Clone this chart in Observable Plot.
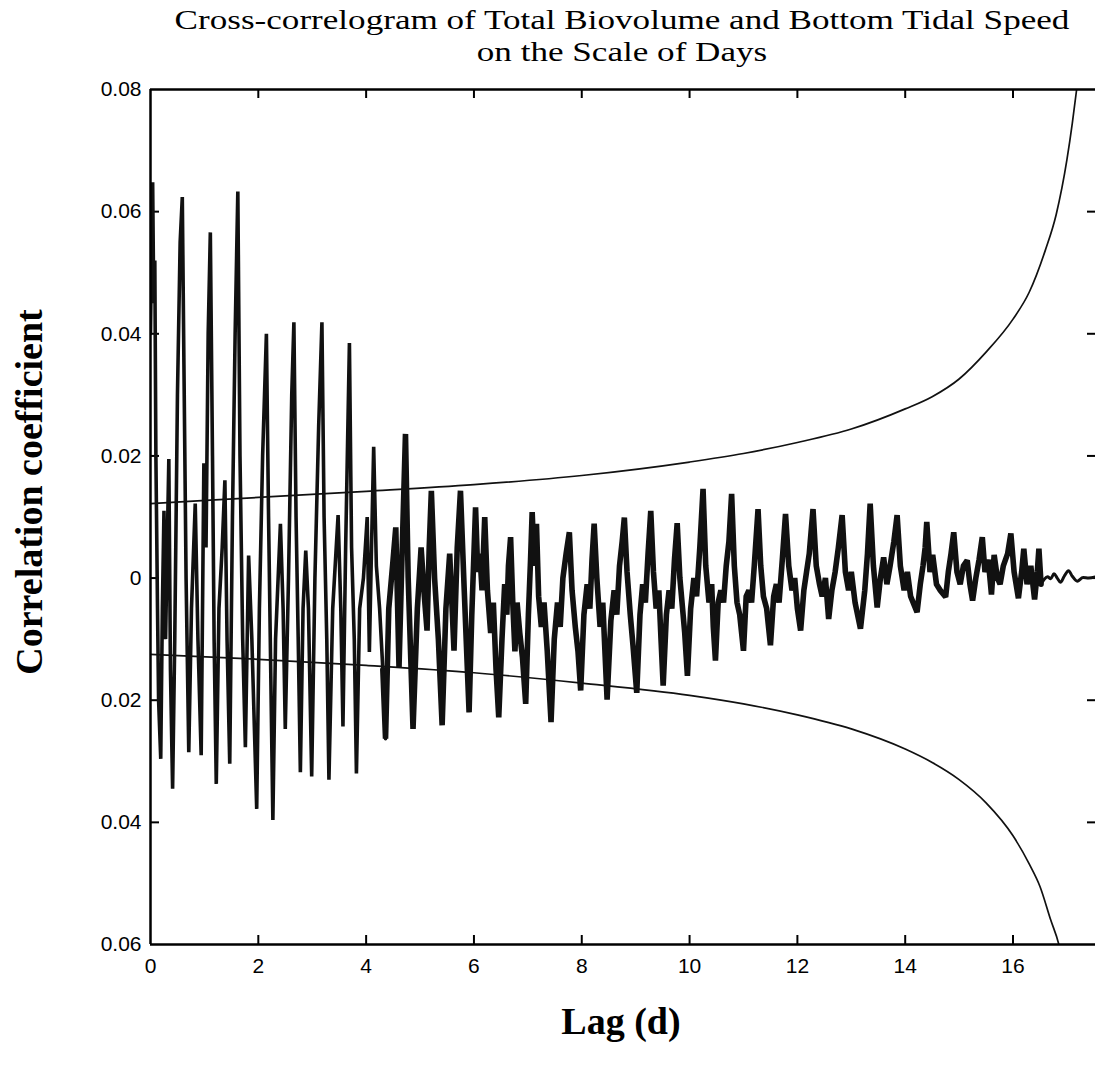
<!DOCTYPE html>
<html>
<head>
<meta charset="utf-8">
<script src="https://cdn.jsdelivr.net/npm/d3@7"></script>
<script src="https://cdn.jsdelivr.net/npm/@observablehq/plot@0.6"></script>
<style>
  html, body { margin: 0; padding: 0; background: #fff; }
  #wrap { position: relative; width: 1095px; height: 1068px; overflow: hidden; }
  .title { position: absolute; left: 0; top: 4px; width: 1244px; text-align: center; font-family: "Liberation Serif", serif; font-size: 27px; line-height: 32px; color: #000; white-space: nowrap; transform: scaleX(1.3); transform-origin: 622px 50%; }
  .axlabel { position: absolute; font-family: "Liberation Serif", serif; font-weight: bold; font-size: 38px; color: #000; white-space: nowrap; line-height: 1; }
</style>
</head>
<body>
<div id="wrap">
  <div class="title">Cross-correlogram of Total Biovolume and Bottom Tidal Speed<br>on the Scale of Days</div>
  <div class="axlabel" id="ylab" style="left:29px; top:492px; transform: translate(-50%,-50%) rotate(-90deg);">Correlation coefficient</div>
  <div class="axlabel" id="xlab" style="left:621px; top:1021px; transform: translate(-50%,-50%);">Lag (d)</div>
  <div id="chart"></div>
</div>
<script>
// ---- data ----
const xTicks = [0, 2, 4, 6, 8, 10, 12, 14, 16];
const yTicks = [-0.06, -0.04, -0.02, 0, 0.02, 0.04, 0.06, 0.08];
const yTickLabels = ["0.06", "0.04", "0.02", "0", "0.02", "0.04", "0.06", "0.08"];

// [lag (days), correlation coefficient]
const crossCorr = [
  [0.00, 0.040], [0.02, 0.055], [0.04, 0.0648], [0.06, 0.045], [0.08, 0.052], [0.10, 0.020], [0.13, -0.005], [0.15, -0.020],
  [0.19, -0.0296], [0.22, -0.005], [0.25, 0.011], [0.28, -0.010], [0.31, 0.005], [0.34, 0.0195], [0.37, -0.015], [0.41, -0.0345],
  [0.45, -0.010], [0.50, 0.030], [0.55, 0.055], [0.59, 0.0624], [0.62, 0.035], [0.66, 0.000], [0.71, -0.0285], [0.76, -0.005],
  [0.83, 0.0122], [0.88, -0.010], [0.94, -0.029], [0.99, 0.0188], [1.03, 0.005], [1.07, 0.040], [1.11, 0.0566], [1.15, 0.020],
  [1.18, -0.010], [1.22, -0.0337], [1.27, -0.005], [1.33, 0.005], [1.38, 0.016], [1.42, -0.010], [1.47, -0.0304], [1.52, 0.010],
  [1.57, 0.040], [1.62, 0.0633], [1.66, 0.020], [1.71, -0.010], [1.76, -0.0277], [1.82, 0.0037], [1.88, -0.010], [1.97, -0.0378],
  [2.02, -0.005], [2.08, 0.020], [2.15, 0.040], [2.19, 0.010], [2.23, -0.015], [2.27, -0.0396], [2.32, -0.010], [2.41, 0.0089],
  [2.46, -0.005], [2.50, -0.0247], [2.56, 0.000], [2.62, 0.030], [2.66, 0.0419], [2.70, 0.010], [2.74, -0.010], [2.78, -0.0318],
  [2.83, -0.005], [2.88, 0.0045], [2.93, -0.005], [2.99, -0.0325], [3.05, 0.000], [3.12, 0.025], [3.18, 0.0419], [3.22, 0.010],
  [3.27, -0.010], [3.31, -0.033], [3.38, -0.005], [3.48, 0.0103], [3.53, -0.005], [3.57, -0.0243], [3.62, 0.005], [3.69, 0.0385],
  [3.73, 0.005], [3.78, -0.010], [3.82, -0.032], [3.88, -0.005], [3.95, 0.000], [4.02, 0.010], [4.06, -0.0121], [4.10, 0.005],
  [4.14, 0.0215], [4.19, 0.002], [4.25, -0.005], [4.31, -0.015], [4.36, -0.0263], [4.42, -0.005], [4.50, 0.003], [4.55, 0.0083],
  [4.61, -0.0146], [4.67, 0.005], [4.73, 0.0236], [4.78, 0.000], [4.87, -0.0247], [4.95, -0.005], [5.02, 0.005], [5.08, -0.003],
  [5.13, -0.0086], [5.17, 0.005], [5.21, 0.0143], [5.27, 0.000], [5.34, -0.010], [5.41, -0.0241], [5.48, -0.005], [5.55, 0.004],
  [5.63, -0.0119], [5.69, 0.005], [5.75, 0.0143], [5.82, -0.002], [5.91, -0.022], [5.96, -0.006], [6.00, 0.004], [6.03, 0.0116],
  [6.07, 0.001], [6.11, 0.004], [6.15, -0.002], [6.20, 0.010], [6.25, -0.002], [6.31, -0.009], [6.36, -0.004], [6.41, -0.015],
  [6.46, -0.0228], [6.52, -0.010], [6.57, -0.001], [6.61, -0.006], [6.64, 0.002], [6.68, 0.0067], [6.72, -0.004], [6.76, -0.012],
  [6.80, -0.004], [6.85, -0.009], [6.90, -0.013], [6.96, -0.0206], [7.01, -0.006], [7.05, 0.003], [7.08, 0.0108], [7.12, 0.002],
  [7.16, 0.0089], [7.20, -0.003], [7.25, -0.008], [7.30, -0.004], [7.36, -0.012], [7.43, -0.0236], [7.49, -0.010], [7.55, -0.004],
  [7.60, -0.008], [7.65, 0.000], [7.71, 0.004], [7.77, 0.0075], [7.82, -0.002], [7.88, -0.008], [7.93, -0.012], [7.98, -0.0184],
  [8.04, -0.006], [8.10, -0.001], [8.15, -0.005], [8.19, 0.003], [8.23, 0.0089], [8.28, 0.000], [8.34, -0.008], [8.39, -0.004],
  [8.43, -0.012], [8.47, -0.0199], [8.54, -0.007], [8.60, -0.002], [8.65, -0.006], [8.70, 0.002], [8.75, 0.006], [8.79, 0.0099],
  [8.84, 0.001], [8.90, -0.006], [8.95, -0.011], [9.02, -0.0188], [9.08, -0.006], [9.13, -0.001], [9.18, -0.004], [9.23, 0.004],
  [9.28, 0.011], [9.33, 0.001], [9.38, -0.005], [9.43, -0.002], [9.47, -0.010], [9.51, -0.0176], [9.57, -0.006], [9.62, -0.002],
  [9.67, -0.005], [9.72, 0.003], [9.77, 0.009], [9.82, 0.000], [9.87, -0.005], [9.91, -0.009], [9.96, -0.016], [10.02, -0.005],
  [10.08, 0.000], [10.13, -0.003], [10.19, 0.005], [10.25, 0.0146], [10.30, 0.002], [10.36, -0.004], [10.41, -0.001], [10.44, -0.008],
  [10.48, -0.0135], [10.53, -0.004], [10.58, -0.002], [10.63, -0.004], [10.68, 0.002], [10.73, 0.006], [10.78, 0.0138], [10.83, 0.002],
  [10.88, -0.004], [10.93, -0.006], [11.00, -0.0119], [11.05, -0.003], [11.10, -0.002], [11.15, -0.004], [11.20, 0.002], [11.27, 0.0113],
  [11.32, 0.002], [11.37, -0.003], [11.43, -0.005], [11.50, -0.011], [11.56, -0.003], [11.61, -0.001], [11.66, -0.004], [11.72, 0.003],
  [11.78, 0.0105], [11.84, 0.002], [11.90, -0.002], [11.95, 0.000], [12.00, -0.005], [12.06, -0.0086], [12.12, -0.002], [12.17, 0.001],
  [12.22, 0.004], [12.29, 0.0113], [12.35, 0.002], [12.41, -0.001], [12.46, -0.003], [12.52, 0.000], [12.58, -0.0067], [12.64, -0.002],
  [12.70, 0.001], [12.76, 0.005], [12.83, 0.0103], [12.89, 0.001], [12.95, -0.002], [13.00, 0.001], [13.07, -0.004], [13.17, -0.0083],
  [13.25, -0.002], [13.30, 0.004], [13.35, 0.0122], [13.41, 0.002], [13.48, -0.0048], [13.54, 0.000], [13.60, 0.0034], [13.66, -0.001],
  [13.72, 0.002], [13.79, 0.006], [13.85, 0.0103], [13.91, 0.002], [13.98, -0.002], [14.04, 0.001], [14.10, -0.003], [14.22, -0.0056],
  [14.28, -0.001], [14.33, 0.002], [14.37, 0.005], [14.40, 0.0092], [14.46, 0.001], [14.51, 0.0038], [14.58, -0.001], [14.65, -0.002],
  [14.75, -0.0031], [14.80, 0.001], [14.85, 0.004], [14.90, 0.0075], [14.96, 0.001], [15.02, -0.001], [15.08, 0.002], [15.15, 0.0029],
  [15.20, -0.001], [15.25, -0.0037], [15.31, 0.000], [15.37, 0.003], [15.43, 0.0067], [15.48, 0.001], [15.54, 0.003], [15.60, -0.0027],
  [15.65, 0.0038], [15.71, 0.000], [15.76, -0.001], [15.82, 0.002], [15.90, 0.004], [15.96, 0.0073], [16.02, 0.001], [16.10, -0.0033],
  [16.16, 0.001], [16.20, 0.0048], [16.26, -0.001], [16.33, 0.002], [16.40, -0.0035], [16.45, 0.001], [16.48, 0.0048], [16.52, -0.001],
  [16.58, -0.0002], [16.64, 0.0002], [16.70, -0.0001], [16.76, 0.0007], [16.82, 0.0000], [16.88, -0.0007], [16.95, 0.0003], [17.03, 0.0012],
  [17.10, 0.0003], [17.19, -0.0005], [17.30, 0.0001], [17.40, 0.0000], [17.53, 0.0002]
];

// confidence bounds [lag, value]
const upperBound = [
  [0, 0.0122], [2, 0.0132], [4, 0.0142], [6, 0.0153], [8, 0.0168], [10, 0.0190], [11, 0.0204], [12, 0.0222],
  [13, 0.0244], [14, 0.0277], [14.5, 0.0297], [15, 0.0326], [15.5, 0.0370], [16, 0.0424], [16.3, 0.0468],
  [16.6, 0.0537], [16.8, 0.0595], [17.0, 0.0685], [17.1, 0.0745], [17.18, 0.0800], [17.22, 0.0830]
];
const lowerBound = [
  [0, -0.0125], [2, -0.0133], [4, -0.0143], [6, -0.0155], [8, -0.0172], [10, -0.0192], [11, -0.0206], [12, -0.0224],
  [13, -0.0247], [14, -0.0280], [14.5, -0.0302], [15, -0.0330], [15.5, -0.0368], [16, -0.0422], [16.3, -0.0468],
  [16.5, -0.0505], [16.7, -0.0560], [16.85, -0.0600], [16.9, -0.0620]
];
const spikeRegionEnd = 4.3; // lag where the tall narrow spikes give way to the dense band
const tailStart = 16.5;     // lag where the band turns into a thin smooth trace

// ---- layout ----
const W = 1095, H = 1068;
const mL = 150, mR = 0, mT = 89, mB = 124;
const plotW = W - mL - mR, plotH = H - mT - mB;
const xDomain = [0, 17.53];
const yDomain = [-0.06, 0.08];

const early = crossCorr.filter((d) => d[0] <= spikeRegionEnd + 0.07);
const band = crossCorr.filter((d) => d[0] >= spikeRegionEnd && d[0] <= tailStart + 0.03);
const tail = crossCorr.filter((d) => d[0] >= tailStart);

const chart = Plot.plot({
  width: W,
  height: H,
  marginLeft: mL,
  marginRight: mR,
  marginTop: mT,
  marginBottom: mB,
  style: { fontFamily: "'Liberation Sans', Arial, sans-serif", fontSize: "21px", color: "#000", background: "#fff" },
  x: { domain: xDomain },
  y: { domain: yDomain },
  marks: [
    Plot.axisX({ ticks: xTicks, tickSize: 0, tickPadding: 14, label: null, fontSize: 21 }),
    Plot.axisY({ ticks: yTicks, tickSize: 0, tickPadding: 9, label: null, fontSize: 21,
      tickFormat: (d) => yTickLabels[yTicks.indexOf(d)] }),
    // inward tick marks on all four sides
    Plot.tickX(xTicks.slice(1), { x: (d) => d, insetTop: plotH - 9, stroke: "#000", strokeWidth: 2 }),
    Plot.tickX(xTicks.slice(1), { x: (d) => d, insetBottom: plotH - 9, stroke: "#000", strokeWidth: 2 }),
    Plot.tickY(yTicks.slice(1, -1), { y: (d) => d, insetRight: plotW - 9, stroke: "#000", strokeWidth: 2 }),
    Plot.tickY(yTicks.slice(1, -1), { y: (d) => d, insetLeft: plotW - 8, stroke: "#000", strokeWidth: 2 }),
    // confidence bounds
    Plot.line(upperBound, { x: (d) => d[0], y: (d) => d[1], stroke: "#111", strokeWidth: 1.7, curve: "monotone-x", clip: true }),
    Plot.line(lowerBound, { x: (d) => d[0], y: (d) => d[1], stroke: "#111", strokeWidth: 1.7, curve: "monotone-x", clip: true }),
    // cross-correlation: narrow spikes, dense band, smooth tail
    Plot.line(early, { x: (d) => d[0], y: (d) => d[1], stroke: "#111", strokeWidth: 3.6, strokeLinejoin: "miter", strokeMiterlimit: 3, clip: true }),
    Plot.line(band, { x: (d) => d[0], y: (d) => d[1], stroke: "#111", strokeWidth: 5.6, strokeLinejoin: "miter", strokeMiterlimit: 2.2, clip: true }),
    Plot.line(tail, { x: (d) => d[0], y: (d) => d[1], stroke: "#111", strokeWidth: 3, curve: "monotone-x", clip: true }),
    // frame (left, top, bottom)
    Plot.ruleX([xDomain[0]], { stroke: "#000", strokeWidth: 2.5 }),
    Plot.ruleY(yDomain, { stroke: "#000", strokeWidth: 2.5 })
  ]
});
document.getElementById("chart").appendChild(chart);
</script>
</body>
</html>
